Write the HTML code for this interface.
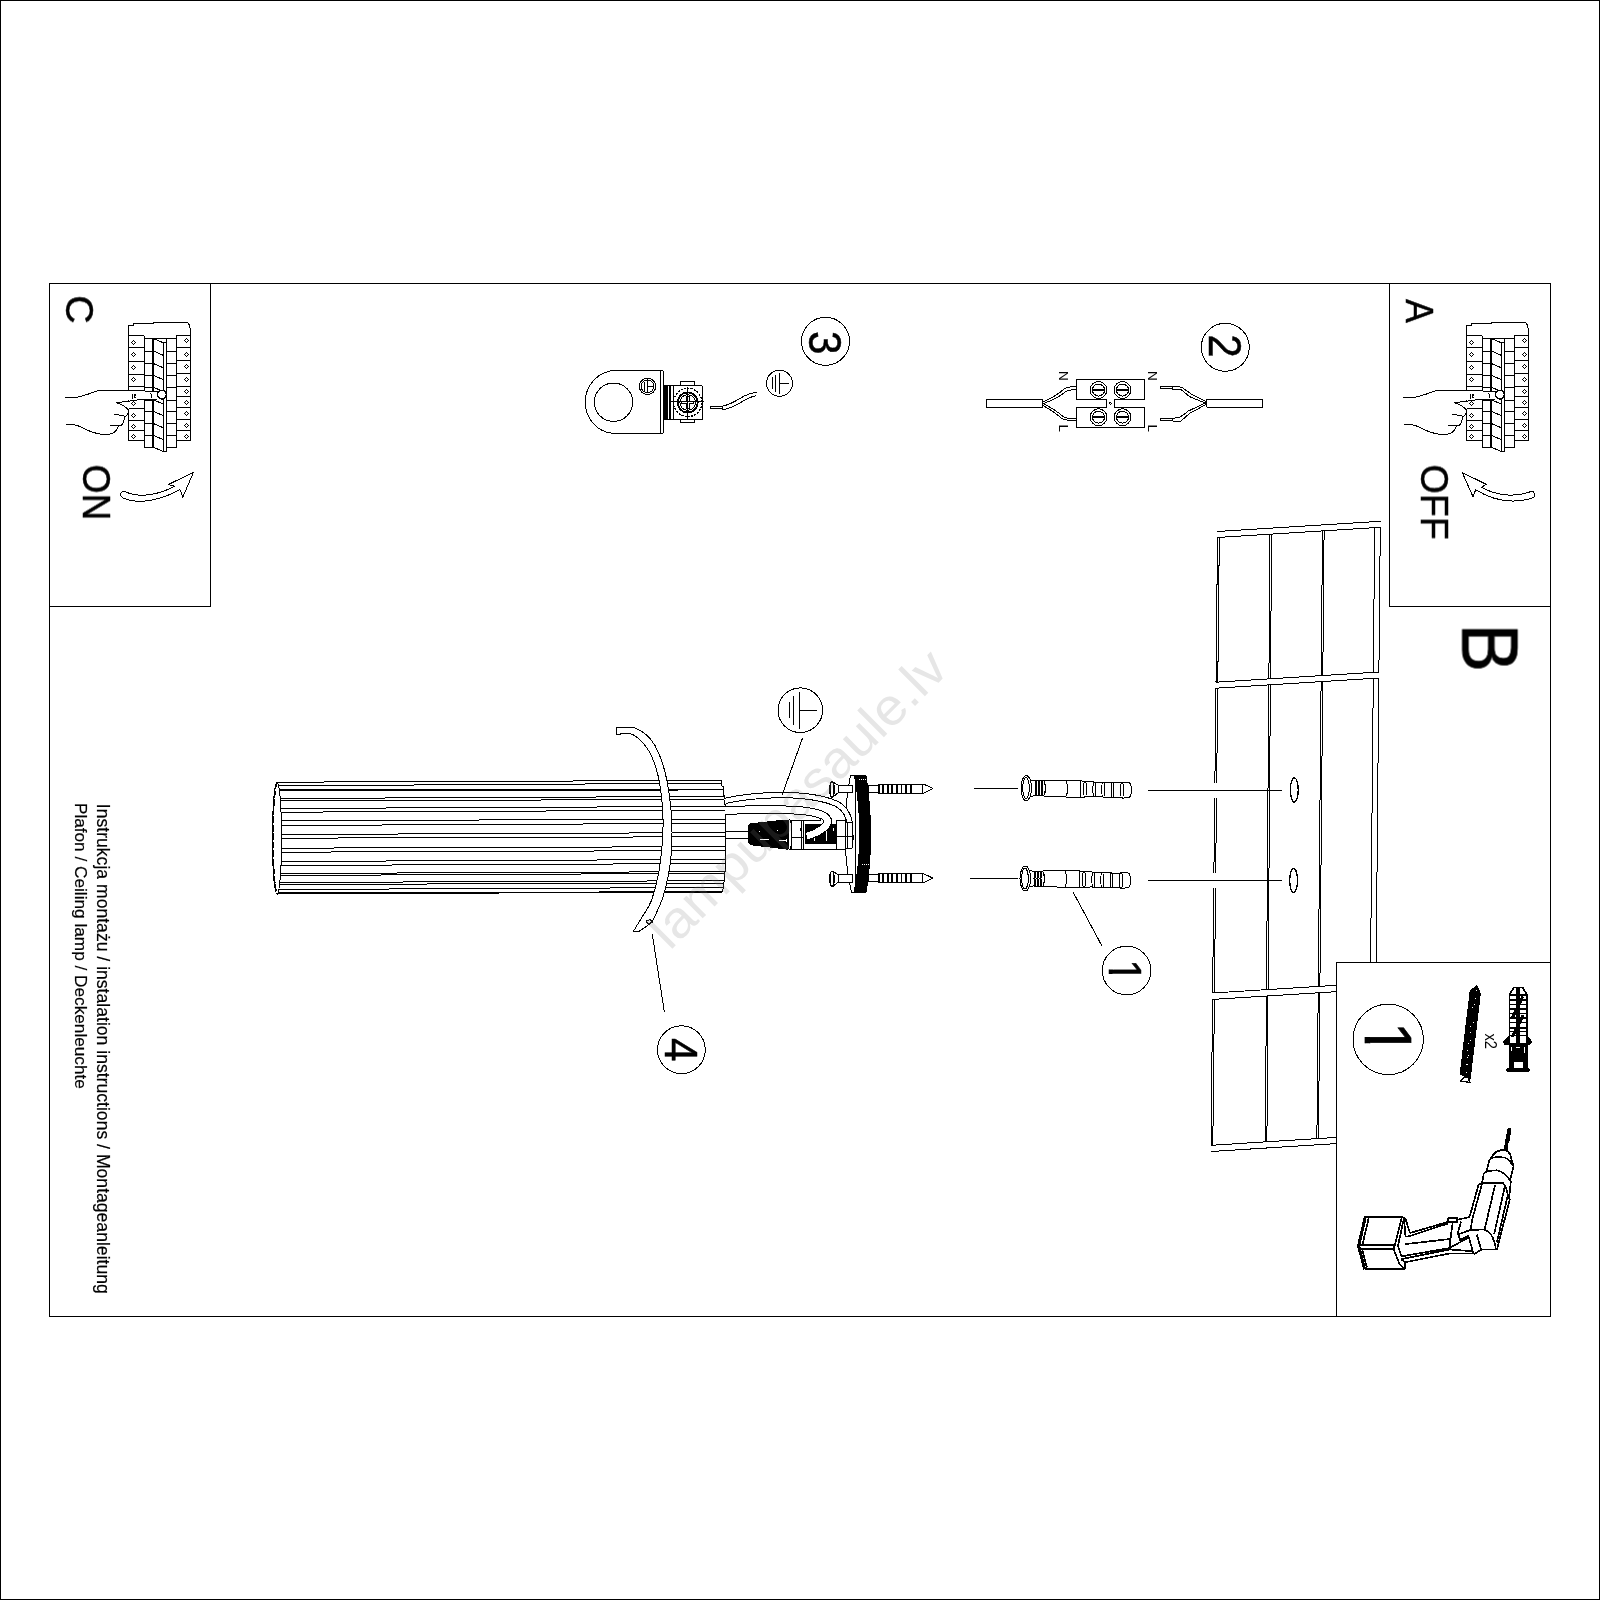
<!DOCTYPE html>
<html lang="pl">
<head>
<meta charset="utf-8">
<title>Instrukcja montażu / instalation instructions / Montageanleitung</title>
<style>
html,body{margin:0;padding:0;background:#fff;}
body{width:1600px;height:1600px;position:relative;overflow:hidden;font-family:"Liberation Sans",sans-serif;}
svg{position:absolute;left:0;top:0;display:block;shape-rendering:crispEdges;}
.l{fill:none;stroke:#000;stroke-width:1;vector-effect:non-scaling-stroke;stroke-linejoin:round;stroke-linecap:butt}
.w{fill:#fff;stroke:#000;stroke-width:1;vector-effect:non-scaling-stroke;stroke-linejoin:round}
.k{fill:#000;stroke:#000;stroke-width:1;vector-effect:non-scaling-stroke;stroke-linejoin:round}
.t2{fill:none;stroke:#000;stroke-width:1.7;vector-effect:non-scaling-stroke;stroke-linejoin:round}
.t3{fill:none;stroke:#000;stroke-width:2.4;vector-effect:non-scaling-stroke;stroke-linejoin:round}
text{font-family:"Liberation Sans",sans-serif;fill:#000}
</style>
</head>
<body>
<svg width="1600" height="1600" viewBox="0 0 1600 1600">
<rect x="0" y="0" width="1600" height="1600" fill="#fff"/>
<!-- page border and frames -->
<rect x="0.5" y="0.5" width="1599" height="1599" class="l" style="stroke-width:1.2"/>
<rect x="49.5" y="283.5" width="1501" height="1033" class="l"/>
<rect x="49.5" y="283.5" width="161" height="323" class="l"/>
<rect x="1389.5" y="283.5" width="161" height="323" class="l"/>
<!-- breaker panel + pointing hand (box C and box A) -->
<g transform="translate(50,300) scale(0.125)">
<path class="l" d="M628,285 V205 H668 V190 H825 V180 H1100 L1118,205 L1125,265 V1120"/>
<path class="l" d="M628,285 V1125 H752 V285 Z"/>
<path class="l" d="M628,380 H752"/>
<path class="l" d="M628,495 H752"/>
<path class="l" d="M628,592 H752"/>
<path class="l" d="M628,688 H752"/>
<path class="l" d="M628,775 H752"/>
<path class="l" d="M628,865 H752"/>
<path class="l" d="M628,960 H752"/>
<path class="l" d="M628,1045 H752"/>
<path class="l" d="M1012,280 H1125 M1012,280 V1120 H1125"/>
<path class="l" d="M1012,380 H1125"/>
<path class="l" d="M1012,485 H1125"/>
<path class="l" d="M1012,590 H1125"/>
<path class="l" d="M1012,688 H1125"/>
<path class="l" d="M1012,775 H1125"/>
<path class="l" d="M1012,862 H1125"/>
<path class="l" d="M1012,958 H1125"/>
<path class="l" d="M1012,1040 H1125"/>
<path class="l" d="M757,310 H820 M757,310 V1180 H820"/>
<path class="l" d="M757,410 H820"/>
<path class="l" d="M757,510 H820"/>
<path class="l" d="M757,605 H820"/>
<path class="l" d="M757,700 H820"/>
<path class="l" d="M757,800 H820"/>
<path class="l" d="M757,893 H820"/>
<path class="l" d="M757,990 H820"/>
<path class="l" d="M757,1085 H820"/>
<path class="t3" d="M825,305 V1182"/>
<path class="l" d="M832,310 L905,342 V1212 L832,1180 M905,342 H930 V1212 H905 M930,330 V342"/>
<path class="l" d="M832,410 L905,442"/>
<path class="l" d="M832,510 L905,542"/>
<path class="l" d="M832,605 L905,637"/>
<path class="l" d="M832,700 L905,732"/>
<path class="l" d="M832,800 L905,832"/>
<path class="l" d="M832,893 L905,925"/>
<path class="l" d="M832,990 L905,1022"/>
<path class="l" d="M832,1085 L905,1117"/>
<path class="l" d="M935,310 H1010 M935,310 V1180 H1010 V310"/>
<path class="l" d="M935,410 H1010"/>
<path class="l" d="M935,510 H1010"/>
<path class="l" d="M935,605 H1010"/>
<path class="l" d="M935,700 H1010"/>
<path class="l" d="M935,800 H1010"/>
<path class="l" d="M935,893 H1010"/>
<path class="l" d="M935,990 H1010"/>
<path class="l" d="M935,1085 H1010"/>
<path class="l" d="M752,285 L757,310 M1010,310 L1012,280 M820,310 H935"/>
<path class="l" d="M652,340 L668,324 L684,340 L668,356 Z"/>
<path class="l" d="M652,437 L668,421 L684,437 L668,453 Z"/>
<path class="l" d="M652,540 L668,524 L684,540 L668,556 Z"/>
<path class="l" d="M652,635 L668,619 L684,635 L668,651 Z"/>
<path class="l" d="M652,828 L668,812 L684,828 L668,844 Z"/>
<path class="l" d="M652,923 L668,907 L684,923 L668,939 Z"/>
<path class="l" d="M652,1012 L668,996 L684,1012 L668,1028 Z"/>
<path class="l" d="M652,1090 L668,1074 L684,1090 L668,1106 Z"/>
<path class="l" d="M1076,325 L1092,309 L1108,325 L1092,341 Z"/>
<path class="l" d="M1076,437 L1092,421 L1108,437 L1092,453 Z"/>
<path class="l" d="M1076,532 L1092,516 L1108,532 L1092,548 Z"/>
<path class="l" d="M1076,635 L1092,619 L1108,635 L1092,651 Z"/>
<path class="l" d="M1076,732 L1092,716 L1108,732 L1092,748 Z"/>
<path class="l" d="M1076,820 L1092,804 L1108,820 L1092,836 Z"/>
<path class="l" d="M1076,908 L1092,892 L1108,908 L1092,924 Z"/>
<path class="l" d="M1076,1003 L1092,987 L1108,1003 L1092,1019 Z"/>
<path class="l" d="M1076,1090 L1092,1074 L1108,1090 L1092,1106 Z"/>
<path class="w" d="M120,778 C190,790 250,775 300,755 C340,740 370,725 400,723 L640,722 L860,735 L860,790 L700,800 L530,822 L628,868 L628,800 Z" style="stroke:none"/>
<path class="l" d="M120,778 C190,790 250,775 300,755 C340,740 370,725 400,723 L640,722 L862,733"/>
<path class="l" d="M862,792 L700,800 L530,822 C570,835 600,850 620,872 C630,890 628,915 605,930 C575,925 545,918 515,912"/>
<path class="l" d="M592,935 C595,960 590,985 572,1000 C545,1012 510,1008 482,1003"/>
<path class="l" d="M545,1010 C540,1035 525,1055 500,1068 C470,1078 440,1078 410,1075 C360,1065 300,1045 260,1022 C230,1005 200,993 130,995"/>
<ellipse class="w" cx="895" cy="757" rx="36" ry="34" style="stroke-width:1.6"/>
<path class="l" d="M660,748 V790 M672,752 h10 v14 h-10 v16 h12 M806,740 L816,782"/>
</g>
<g transform="translate(1388,300) scale(0.125)">
<path class="l" d="M628,285 V205 H668 V190 H825 V180 H1100 L1118,205 L1125,265 V1120"/>
<path class="l" d="M628,285 V1125 H752 V285 Z"/>
<path class="l" d="M628,380 H752"/>
<path class="l" d="M628,495 H752"/>
<path class="l" d="M628,592 H752"/>
<path class="l" d="M628,688 H752"/>
<path class="l" d="M628,775 H752"/>
<path class="l" d="M628,865 H752"/>
<path class="l" d="M628,960 H752"/>
<path class="l" d="M628,1045 H752"/>
<path class="l" d="M1012,280 H1125 M1012,280 V1120 H1125"/>
<path class="l" d="M1012,380 H1125"/>
<path class="l" d="M1012,485 H1125"/>
<path class="l" d="M1012,590 H1125"/>
<path class="l" d="M1012,688 H1125"/>
<path class="l" d="M1012,775 H1125"/>
<path class="l" d="M1012,862 H1125"/>
<path class="l" d="M1012,958 H1125"/>
<path class="l" d="M1012,1040 H1125"/>
<path class="l" d="M757,310 H820 M757,310 V1180 H820"/>
<path class="l" d="M757,410 H820"/>
<path class="l" d="M757,510 H820"/>
<path class="l" d="M757,605 H820"/>
<path class="l" d="M757,700 H820"/>
<path class="l" d="M757,800 H820"/>
<path class="l" d="M757,893 H820"/>
<path class="l" d="M757,990 H820"/>
<path class="l" d="M757,1085 H820"/>
<path class="t3" d="M825,305 V1182"/>
<path class="l" d="M832,310 L905,342 V1212 L832,1180 M905,342 H930 V1212 H905 M930,330 V342"/>
<path class="l" d="M832,410 L905,442"/>
<path class="l" d="M832,510 L905,542"/>
<path class="l" d="M832,605 L905,637"/>
<path class="l" d="M832,700 L905,732"/>
<path class="l" d="M832,800 L905,832"/>
<path class="l" d="M832,893 L905,925"/>
<path class="l" d="M832,990 L905,1022"/>
<path class="l" d="M832,1085 L905,1117"/>
<path class="l" d="M935,310 H1010 M935,310 V1180 H1010 V310"/>
<path class="l" d="M935,410 H1010"/>
<path class="l" d="M935,510 H1010"/>
<path class="l" d="M935,605 H1010"/>
<path class="l" d="M935,700 H1010"/>
<path class="l" d="M935,800 H1010"/>
<path class="l" d="M935,893 H1010"/>
<path class="l" d="M935,990 H1010"/>
<path class="l" d="M935,1085 H1010"/>
<path class="l" d="M752,285 L757,310 M1010,310 L1012,280 M820,310 H935"/>
<path class="l" d="M652,340 L668,324 L684,340 L668,356 Z"/>
<path class="l" d="M652,437 L668,421 L684,437 L668,453 Z"/>
<path class="l" d="M652,540 L668,524 L684,540 L668,556 Z"/>
<path class="l" d="M652,635 L668,619 L684,635 L668,651 Z"/>
<path class="l" d="M652,828 L668,812 L684,828 L668,844 Z"/>
<path class="l" d="M652,923 L668,907 L684,923 L668,939 Z"/>
<path class="l" d="M652,1012 L668,996 L684,1012 L668,1028 Z"/>
<path class="l" d="M652,1090 L668,1074 L684,1090 L668,1106 Z"/>
<path class="l" d="M1076,325 L1092,309 L1108,325 L1092,341 Z"/>
<path class="l" d="M1076,437 L1092,421 L1108,437 L1092,453 Z"/>
<path class="l" d="M1076,532 L1092,516 L1108,532 L1092,548 Z"/>
<path class="l" d="M1076,635 L1092,619 L1108,635 L1092,651 Z"/>
<path class="l" d="M1076,732 L1092,716 L1108,732 L1092,748 Z"/>
<path class="l" d="M1076,820 L1092,804 L1108,820 L1092,836 Z"/>
<path class="l" d="M1076,908 L1092,892 L1108,908 L1092,924 Z"/>
<path class="l" d="M1076,1003 L1092,987 L1108,1003 L1092,1019 Z"/>
<path class="l" d="M1076,1090 L1092,1074 L1108,1090 L1092,1106 Z"/>
<path class="w" d="M120,778 C190,790 250,775 300,755 C340,740 370,725 400,723 L640,722 L860,735 L860,790 L700,800 L530,822 L628,868 L628,800 Z" style="stroke:none"/>
<path class="l" d="M120,778 C190,790 250,775 300,755 C340,740 370,725 400,723 L640,722 L862,733"/>
<path class="l" d="M862,792 L700,800 L530,822 C570,835 600,850 620,872 C630,890 628,915 605,930 C575,925 545,918 515,912"/>
<path class="l" d="M592,935 C595,960 590,985 572,1000 C545,1012 510,1008 482,1003"/>
<path class="l" d="M545,1010 C540,1035 525,1055 500,1068 C470,1078 440,1078 410,1075 C360,1065 300,1045 260,1022 C230,1005 200,993 130,995"/>
<ellipse class="w" cx="895" cy="757" rx="36" ry="34" style="stroke-width:1.6"/>
<path class="l" d="M660,748 V790 M672,752 h10 v14 h-10 v16 h12 M806,740 L816,782"/>
</g>
<!-- ON / OFF curved arrows -->
<g transform="translate(60,440) scale(0.1)">
<path class="l" d="M1335,322 L1085,445 L1150,462 C1000,540 800,590 650,515 C600,508 588,562 640,585 C800,650 1000,600 1200,497 L1228,572 Z"/>
</g>
<g transform="translate(1380,420) scale(0.125)">
<path class="l" d="M658,420 L850,515 L812,537 C900,590 1050,630 1205,573 C1238,566 1252,612 1215,625 C1100,660 950,672 765,558 L745,615 Z"/>
</g>
<!-- step 2: terminal block and cables -->
<g transform="translate(1030,360) scale(0.1)">
<path class="l" d="M465,195 H1145 V393 H845 V475 H1145 V675 H465 V475 H760 V393 H465 Z"/>
<circle class="l" cx="803" cy="433" r="9"/>
<g id="scr">
<circle class="l" cx="685" cy="300" r="84"/><circle class="l" cx="685" cy="300" r="60"/><path class="t2" d="M628,300 H742"/>
</g>
<circle class="l" cx="925" cy="300" r="84"/><circle class="l" cx="925" cy="300" r="60"/><path class="t2" d="M868,300 H982"/>
<circle class="l" cx="685" cy="572" r="84"/><circle class="l" cx="685" cy="572" r="60"/><path class="t2" d="M628,572 H742"/>
<circle class="l" cx="925" cy="572" r="84"/><circle class="l" cx="925" cy="572" r="60"/><path class="t2" d="M868,572 H982"/>
<!-- left cable -->
<path class="l" d="M-436,398 H125 V470 H-436 Z"/>
<path class="l" d="M125,422 C200,388 265,360 330,298 C362,268 400,265 465,265"/>
<path class="l" d="M125,440 C215,405 285,378 350,322 C380,296 410,295 465,295"/>
<path class="l" d="M125,432 C200,470 265,505 330,565 C362,592 400,580 465,580"/>
<path class="l" d="M125,452 C195,490 255,530 320,585 C350,607 400,605 465,605"/>
</g>
<g transform="translate(1140,360) scale(0.1)">
<!-- right cable -->
<path class="l" d="M665,398 H1225 V470 H665 Z"/>
<path class="l" d="M325,265 H205 V285 H325"/>
<path class="l" d="M325,262 H375 L430,280 C470,310 500,335 530,350 L665,418"/>
<path class="l" d="M325,262 V296 H410 C440,320 470,348 500,368 L665,436"/>
<path class="l" d="M325,588 H205 V606 H325"/>
<path class="l" d="M325,610 H410 C440,585 470,555 500,532 L665,442"/>
<path class="l" d="M325,610 V584 L400,570 C430,555 455,530 480,512 L665,424"/>
</g>
<!-- step 3: earth bracket -->
<g transform="translate(575,360) scale(0.1)">
<path class="l" d="M400,103 H865 Q885,103 885,123 V715 Q885,735 865,735 H385 C220,720 103,590 103,418 C103,250 230,115 400,103 Z"/>
<path class="l" d="M858,103 V735"/>
<circle class="l" cx="385" cy="422" r="192"/>
<circle class="l" cx="725" cy="263" r="82"/><circle class="l" cx="725" cy="263" r="64"/>
<path class="l" d="M695,215 V311 M722,200 V326 M722,263 H778"/>
<!-- clamp -->
<path class="l" d="M888,255 H1270 V597 H888"/>
<path d="M890,250 H925 V600 H890 Z M936,250 H957 V600 H936 Z" fill="#000"/>
<path class="l" d="M985,255 V597"/>
<path class="l" d="M1055,255 V212 H1198 V255 M1055,597 V628 H1198 V597"/>
<circle class="l" cx="1127" cy="425" r="142" style="stroke-dasharray:2.2 1.1;stroke-width:1.3"/>
<circle class="t2" cx="1127" cy="425" r="100"/>
<circle class="l" cx="1127" cy="425" r="78"/>
<path class="l" d="M1113,365 H1141 V411 H1187 V439 H1141 V485 H1113 V439 H1067 V411 H1113 Z"/>
<path class="l" d="M960,415 H1290 M1127,265 V590"/>
</g>
<g transform="translate(700,310) scale(0.1)">
<circle class="l" cx="795" cy="733" r="130"/>
<path class="l" d="M725,670 V790 M755,650 V815 M790,625 V840 M790,733 H885"/>
<!-- wire -->
<path class="l" d="M225,962 H103 V985 H225"/>
<path class="l" d="M225,962 V997 C290,990 340,970 430,912 C470,885 510,865 565,855"/>
<path class="l" d="M225,962 C300,945 350,915 400,885 C440,858 490,835 565,822"/>
</g>
<!-- ceiling panels -->
<path class="l" d="M1217.3,531.5 L1380.7,521.3"/>
<path class="l" d="M1210.9,1151.5 L1336.5,1143.6"/>
<path class="l" d="M1217.5,537.5 L1380.3,527.3"/>
<path class="l" d="M1216.0,682.2 L1378.9,672.0"/>
<path class="l" d="M1217.5,537.5 L1216.0,682.2"/>
<path class="l" d="M1219.3,537.5 L1217.8,682.2"/>
<path class="l" d="M1270.0,534.2 L1268.9,678.9"/>
<path class="l" d="M1271.6,534.2 L1270.5,678.9"/>
<path class="l" d="M1322.5,530.9 L1321.2,675.7"/>
<path class="l" d="M1324.1,530.9 L1322.8,675.7"/>
<path class="l" d="M1374.7,527.6 L1373.3,672.4"/>
<path class="l" d="M1380.3,527.3 L1378.9,672.0"/>
<path class="l" d="M1215.9,688.2 L1378.8,678.0"/>
<path class="l" d="M1212.6,993.0 L1376.0,982.8"/>
<path class="l" d="M1215.9,688.2 L1214.9,782.8"/>
<path class="l" d="M1217.7,688.2 L1216.7,782.8"/>
<path class="l" d="M1214.7,797.8 L1213.9,873.0"/>
<path class="l" d="M1216.5,797.8 L1215.7,873.0"/>
<path class="l" d="M1213.8,888.0 L1212.6,993.0"/>
<path class="l" d="M1215.6,888.0 L1214.4,993.0"/>
<path class="l" d="M1268.8,684.9 L1266.5,989.6"/>
<path class="l" d="M1270.4,684.9 L1268.1,989.6"/>
<path class="l" d="M1321.1,681.7 L1318.3,986.4"/>
<path class="l" d="M1322.7,681.7 L1319.9,986.4"/>
<path class="l" d="M1373.3,678.4 L1370.4,983.1"/>
<path class="l" d="M1378.8,678.0 L1376.0,982.8"/>
<path class="l" d="M1212.6,999.4 L1375.9,989.2"/>
<path class="l" d="M1211.0,1145.3 L1374.6,1135.0"/>
<path class="l" d="M1212.6,999.4 L1211.0,1145.3"/>
<path class="l" d="M1214.4,999.4 L1212.8,1145.3"/>
<path class="l" d="M1266.4,996.0 L1265.3,1141.9"/>
<path class="l" d="M1268.0,996.0 L1266.9,1141.9"/>
<path class="l" d="M1318.2,992.8 L1316.9,1138.7"/>
<path class="l" d="M1319.8,992.8 L1318.5,1138.7"/>
<path class="l" d="M1370.4,989.5 L1369.0,1135.4"/>
<path class="l" d="M1375.9,989.2 L1374.6,1135.0"/>
<ellipse class="l" cx="1294.3" cy="790" rx="3.9" ry="12.2" style="stroke-width:1.3"/>
<ellipse class="l" cx="1293.6" cy="880.5" rx="3.9" ry="12.2" style="stroke-width:1.3"/>
<path class="l" d="M1148.3,790.3 H1281.7 M1148.3,880.5 H1281.7"/>
<!-- wall plugs and guide lines -->
<g transform="translate(960,760) scale(0.125)">
<path class="l" d="M112,228 H462 M80,947 H462"/>
<ellipse class="w" cx="530" cy="225" rx="42" ry="100"/>
<ellipse class="l" cx="528" cy="225" rx="26" ry="84"/>
<path class="l" d="M562,160 L600,168 M562,292 L600,284"/>
<path class="l" d="M606,168 Q594,225 606,284 M614,168 Q602,225 614,284 M630,166 Q618,225 630,286 M638,166 Q626,225 638,286 M654,166 Q642,225 654,286 M662,166 Q650,225 662,286"/>
<path class="l" d="M600,165 H672 M600,287 H672 M676,170 Q690,225 676,284"/>
<path class="l" d="M672,162 L850,160 M672,288 L850,296"/>
<path class="l" d="M845,160 Q880,228 845,298 M845,160 L968,164 M845,298 L968,298"/>
<path class="l" d="M968,164 Q958,230 968,298"/>
<path class="l" d="M968,166 L1000,172 L1062,172 L1075,178 L1135,178 L1147,180 L1208,180 L1222,182 L1285,182 L1297,178 L1350,180 Q1368,184 1368,205 V275 Q1368,296 1350,298 L1297,306 L1285,298 L1222,300 L1208,296 L1147,298 L1135,294 L1075,296 L1062,292 L1000,296 L968,298"/>
<ellipse class="l" cx="1000" cy="234" rx="12" ry="62"/>
<ellipse class="l" cx="1075" cy="236" rx="12" ry="60"/>
<ellipse class="l" cx="1146" cy="238" rx="12" ry="60"/>
<ellipse class="l" cx="1220" cy="240" rx="12" ry="60"/>
<ellipse class="l" cx="1296" cy="242" rx="12" ry="62"/>
<g transform="translate(-8,723)">
<ellipse class="w" cx="530" cy="225" rx="42" ry="100"/>
<ellipse class="l" cx="528" cy="225" rx="26" ry="84"/>
<path class="l" d="M562,160 L600,168 M562,292 L600,284"/>
<path class="l" d="M606,168 Q594,225 606,284 M614,168 Q602,225 614,284 M630,166 Q618,225 630,286 M638,166 Q626,225 638,286 M654,166 Q642,225 654,286 M662,166 Q650,225 662,286"/>
<path class="l" d="M600,165 H672 M600,287 H672 M676,170 Q690,225 676,284"/>
<path class="l" d="M672,162 L850,160 M672,288 L850,296"/>
<path class="l" d="M845,160 Q880,228 845,298 M845,160 L968,164 M845,298 L968,298"/>
<path class="l" d="M968,164 Q958,230 968,298"/>
<path class="l" d="M968,166 L1000,172 L1062,172 L1075,178 L1135,178 L1147,180 L1208,180 L1222,182 L1285,182 L1297,178 L1350,180 Q1368,184 1368,205 V275 Q1368,296 1350,298 L1297,306 L1285,298 L1222,300 L1208,296 L1147,298 L1135,294 L1075,296 L1062,292 L1000,296 L968,298"/>
<ellipse class="l" cx="1000" cy="234" rx="12" ry="62"/>
<ellipse class="l" cx="1075" cy="236" rx="12" ry="60"/>
<ellipse class="l" cx="1146" cy="238" rx="12" ry="60"/>
<ellipse class="l" cx="1220" cy="240" rx="12" ry="60"/>
<ellipse class="l" cx="1296" cy="242" rx="12" ry="62"/>
</g>
<path class="l" d="M905,1057 L1134,1485"/>
</g>
<!-- lamp: fluted tube -->
<path class="l" d="M277.3,782.2 L721.8,780.4"/>
<path class="l" d="M278.8,785.8 L721.8,783.2"/>
<path class="t2" d="M279.6,790.2 L723.2,789.6"/>
<path class="l" d="M280.5,798.5 L724.3,796.4"/>
<path class="l" d="M280.7,801.0 L724.3,799.3"/>
<path class="l" d="M281.2,808.5 L725.0,806.4"/>
<path class="l" d="M281.4,812.2 L725.0,810.2"/>
<path class="l" d="M281.7,820.5 L725.0,819.4"/>
<path class="l" d="M281.8,825.5 L725.0,823.3"/>
<path class="l" d="M281.9,834.5 L725.0,832.6"/>
<path class="l" d="M281.9,838.2 L725.0,836.7"/>
<path class="l" d="M281.8,848.2 L725.0,846.6"/>
<path class="l" d="M281.8,852.2 L725.0,850.5"/>
<path class="l" d="M281.5,861.5 L725.0,859.4"/>
<path class="l" d="M281.3,865.5 L725.0,863.5"/>
<path class="l" d="M280.9,873.5 L725.0,871.6"/>
<path class="l" d="M280.7,875.5 L724.0,873.3"/>
<path class="l" d="M280.1,882.5 L724.0,880.7"/>
<path class="l" d="M279.9,884.5 L723.0,883.0"/>
<path class="l" d="M279.1,889.5 L723.0,887.5"/>
<path class="t2" d="M278.0,893.3 L722.0,892.0"/>
<ellipse class="l" cx="277.0" cy="838.3" rx="4.6" ry="55.6"/>
<path class="t2" d="M277.5,782.6999999999999 A4.6,55.6 0 0 0 277.5,893.9" style="stroke-dasharray:7 1.5"/>
<path class="l" d="M721.8,780.4 L721.8,786.0 L723.2,786.0 L723.2,795.0 L724.3,795.0 L724.3,804.0 L725.0,804.0 L725.0,872.0 L724.0,872.0 L724.0,882.0 L723.0,882.0 L723.0,889.0 L722.0,889.0 L722.0,892.2"/>
<!-- lamp: wires, socket, mounting plate, screws -->
<!-- mounting plate -->
<path class="w" d="M855,775.6 H850.5 C846.5,795 845,815 845,834 C845,855 847.5,875 851.5,892.4 H855 Z"/>
<path class="k" d="M854.5,775.6 H866 C869,795 870.6,815 870.6,834 C870.6,855 869,875 866,892.4 H854 C857.5,875 859.8,855 859.8,834 C859.8,815 858,795 854.5,775.6 Z"/>
<path d="M859,779.5 h7 M862,864.5 h7" stroke="#fff" stroke-width="1" stroke-dasharray="1 1" fill="none"/>
<g transform="translate(720,780) scale(0.1)">
<!-- thin cable from tube to socket -->
<path class="l" d="M50,515 H290 M50,580 H290"/>
<!-- earth wire W1 -->
<path d="M50,209 C250,165 450,150 650,150 C850,155 1050,185 1170,240 C1260,290 1295,370 1300,470 L1305,600" fill="none" stroke="#000" stroke-width="6.4" vector-effect="non-scaling-stroke"/>
<path d="M48,209 C250,165 450,150 650,150 C850,155 1050,185 1170,240 C1260,290 1295,370 1300,470 L1305,602" fill="none" stroke="#fff" stroke-width="4.4" vector-effect="non-scaling-stroke"/>
<!-- socket body -->
<path class="l" d="M700,400 H1010 M700,690 H1255"/>
<rect class="w" x="1160" y="400" width="90" height="290"/>
<path class="w" d="M1250,420 H1320 Q1335,550 1320,680 H1250 Z"/>
<path class="l" d="M1160,560 H1330 M1270,420 V680"/>
<rect class="k" x="850" y="440" width="310" height="190"/>
<path d="M940,520 V610 M1060,500 V610 M1085,600 h8 M1130,480 v30" stroke="#fff" stroke-width="1" fill="none" vector-effect="non-scaling-stroke"/>
<rect class="w" x="715" y="400" width="115" height="290"/>
<path class="l" d="M720,570 H830 M815,400 V690 M805,480 V510 M850,440 V640"/>
<path class="k" d="M285,455 L300,440 L330,435 L660,400 H682 V690 H660 L330,650 L300,640 L285,620 Z"/>
<ellipse class="w" cx="696" cy="545" rx="19" ry="150"/>
<path class="l" d="M690,400 Q676,545 690,690"/>
<circle cx="393" cy="515" r="8" fill="#fff"/><circle cx="575" cy="505" r="8" fill="#fff"/>
<path d="M400,595 H490 M585,600 H660 M668,585 V615" stroke="#fff" stroke-width="1" fill="none" vector-effect="non-scaling-stroke"/>
<!-- live wire W2 looping into the socket -->
<path d="M50,308 C300,292 600,292 800,305 C950,318 1072,348 1078,410 C1080,468 980,528 872,560" fill="none" stroke="#000" stroke-width="8.6" vector-effect="non-scaling-stroke"/>
<path d="M48,308 C300,292 600,292 800,305 C950,318 1072,348 1078,410 C1080,468 980,528 868,561" fill="none" stroke="#fff" stroke-width="6.6" vector-effect="non-scaling-stroke"/>
<path class="l" d="M1010,400 L1000,392"/>
</g>
<!-- bolts -->
<g id="bolt">
<path class="w" d="M838,785.2 H852.5 V792.8 H838 Z"/>
<path class="w" d="M833,782 L838,785.2 V792.8 L833,797 Z"/>
<ellipse class="w" cx="832" cy="789.5" rx="2.1" ry="7.6" style="stroke-width:1.4"/>
</g>
<g transform="translate(0,89.4)">
<path class="w" d="M838,785.2 H852.5 V792.8 H838 Z"/>
<path class="w" d="M833,782 L838,785.2 V792.8 L833,797 Z"/>
<ellipse class="w" cx="832" cy="789.5" rx="2.1" ry="7.6" style="stroke-width:1.4"/>
</g>
<!-- wood screws -->
<path class="w" d="M868,785.0 H878 V792.2 H868 Z"/>
<path class="w" d="M878,784.0 H923.5 L933,788.6 L923.5,793.2 H878 Z"/>
<path class="t2" d="M878.8,784.0 V793.2 M883.3,784.0 V793.2 M887.9,784.0 V793.2 M892.4,784.0 V793.2 M897.0,784.0 V793.2 M901.5,784.0 V793.2 M906.1,784.0 V793.2 M910.6,784.0 V793.2" style="stroke-width:1.9"/>
<path class="l" d="M922.5,784.0 V793.2"/>
<path class="w" d="M868,874.6 H878 V881.8000000000001 H868 Z"/>
<path class="w" d="M878,873.6 H923.5 L933,878.2 L923.5,882.8000000000001 H878 Z"/>
<path class="t2" d="M878.8,873.6 V882.8000000000001 M883.3,873.6 V882.8000000000001 M887.9,873.6 V882.8000000000001 M892.4,873.6 V882.8000000000001 M897.0,873.6 V882.8000000000001 M901.5,873.6 V882.8000000000001 M906.1,873.6 V882.8000000000001 M910.6,873.6 V882.8000000000001" style="stroke-width:1.9"/>
<path class="l" d="M922.5,873.6 V882.8000000000001"/>
<!-- rotation arrow (4), earth symbol, leader lines -->
<g transform="translate(590,700) scale(0.1625)">
<path class="w" d="M163,170 H270 C330,190 370,230 400,280 C450,370 475,480 490,600 C505,700 510,800 500,950 C490,1050 475,1130 450,1210 C430,1270 405,1320 380,1370 L300,1425 L268,1422 L330,1320 C350,1290 365,1270 380,1230 C400,1170 415,1110 425,1050 C440,950 450,850 450,750 C448,650 440,560 420,470 C400,390 370,310 330,270 C300,235 270,210 240,205 H190 V212 H163 Z"/>
<path class="w" d="M345,1358 L372,1352 L384,1368 L356,1378 Z"/>
<path class="l" d="M330,1320 L340,1308"/>
<path class="l" d="M383,1440 L458,1922"/>
</g>
<circle class="l" cx="800.3" cy="710.2" r="22.3"/>
<path class="l" d="M789.6,702 V718.4 M793.8,696 V724.5 M799.5,692 V728.5 M799.5,710.2 H816.5"/>
<path class="l" d="M802.5,738.2 L782.3,794.5"/>
<!-- box 1 (hardware) drawn over the ceiling -->
<rect x="1336.5" y="962.5" width="214" height="354" class="w"/>
<!-- box 1: screw + wall plug -->
<g transform="translate(1440,970) scale(0.075)">
<path fill="#000" d="M490,200 L522,262 L545,312 L410,1440 L402,1485 L345,1434 L290,1404 L262,1388 L394,292 L412,262 Z"/>
<g fill="#fff">
<rect x="478" y="262" width="14" height="14"/><rect x="465" y="372" width="14" height="14"/><rect x="450" y="455" width="14" height="14"/>
<rect x="426" y="492" width="14" height="14"/><rect x="436" y="695" width="14" height="14"/><rect x="402" y="742" width="14" height="14"/>
<rect x="400" y="828" width="14" height="14"/><rect x="396" y="935" width="14" height="14"/><rect x="372" y="972" width="14" height="14"/>
<rect x="362" y="1062" width="14" height="14"/><rect x="376" y="1128" width="14" height="14"/><rect x="360" y="1162" width="14" height="14"/>
<rect x="342" y="1255" width="28" height="14"/><rect x="346" y="1355" width="14" height="14"/>
</g>
<path class="w" d="M270,1478 L322,1428 L378,1434 L398,1500 Z" style="stroke-width:1.4"/>
<!-- plug -->
<path class="t2" d="M985,232 H1100 L1158,330 V880 M985,232 L928,330 V880 M928,330 H1158"/>
<path class="t2" d="M928,400 H1158 M928,460 H1158 M928,520 H1158 M928,580 H1158 M928,640 H1158 M928,700 H1158 M928,770 H1158 M928,820 H1158 M928,872 H1158"/>
<path d="M1042,232 V1000" fill="none" stroke="#000" stroke-width="3.6" vector-effect="non-scaling-stroke"/>
<path d="M1105,350 L965,640 M1110,600 L960,900" fill="none" stroke="#000" stroke-width="3" vector-effect="non-scaling-stroke"/>
<path class="k" d="M928,870 L845,960 L872,1000 L928,992 Z M1158,870 L1225,960 L1192,1000 L1158,992 Z"/>
<rect class="k" x="925" y="985" width="236" height="355"/>
<path class="k" d="M900,1312 H1180 Q1200,1330 1180,1350 H900 Q880,1330 900,1312 Z"/>
<g fill="#fff">
<rect x="985" y="1230" width="120" height="80"/><rect x="944" y="1030" width="13" height="52"/><rect x="1124" y="1030" width="13" height="72"/><rect x="1010" y="1022" width="56" height="13"/>
<rect x="950" y="890" width="60" height="70"/><rect x="1075" y="890" width="60" height="70"/>
</g>
</g>
<!-- box 1: cordless drill -->
<g fill="none" stroke="#000" stroke-width="1.7" stroke-linejoin="round">
<!-- battery -->
<path d="M1365.4,1216.5 L1358.6,1245.8 L1364.6,1269.4" stroke-width="3"/>
<path d="M1365,1216.6 H1402 M1364.6,1269.2 H1404.8" stroke-width="2"/>
<path d="M1368.8,1217.6 L1362.4,1245 M1362,1248.8 L1366.9,1267.5"/>
<path d="M1359,1245 H1395 M1361.2,1248.8 H1393.5"/>
<path d="M1401.8,1216.9 L1395,1245 L1393.5,1248.8 L1399.5,1263.8 L1404.8,1269"/>
<path d="M1404,1218 L1398,1245.8 L1401.8,1257"/>
<path d="M1401.8,1216.9 L1405.5,1218.8 L1410,1233 M1404,1218 L1405.5,1236.8"/>
<!-- handle -->
<path d="M1410,1233 L1448.2,1221.8 M1405.5,1236.8 L1410,1236 L1448.2,1223.4"/>
<path d="M1448.2,1218.2 H1457.2 V1221.8 H1448.2 Z"/>
<path d="M1404.8,1244.2 L1449.8,1239 V1248 L1402.5,1256.2"/>
<path d="M1401,1259.2 L1449.8,1249.5 L1474,1251.4 M1405.5,1262.2 L1449.8,1253.4 L1474,1253.6"/>
<path d="M1404.8,1269 L1405.5,1262.2 L1401,1259.2"/>
<path d="M1452.8,1221.8 L1450.5,1239"/>
<path d="M1449.8,1248 L1468.9,1237.2"/>
<path d="M1456.6,1219.8 L1469.8,1217.1 M1461,1221.5 L1457.5,1234.6 L1469.8,1230.2 M1458.4,1234.6 L1460.1,1239.9 L1468.9,1235.5"/>
<!-- motor body -->
<path d="M1478.5,1184.8 L1482,1183 H1503 C1505.5,1185.5 1507,1190 1507.8,1195.2"/>
<path d="M1478.5,1184.8 L1469.8,1216.2 M1482,1183.9 L1472.4,1218.9 L1470.6,1229.4"/>
<path d="M1495.1,1184.8 L1484.6,1229.4 M1504.8,1186.5 L1494.2,1233.8 M1507.8,1195.2 L1496.9,1242.5 M1510,1198.8 L1496.9,1249.5"/>
<path d="M1469.8,1230.2 L1483.8,1229.4 C1488,1231 1491,1234 1492.5,1237.2 C1494.5,1241 1495.5,1245 1496,1249.5"/>
<path d="M1496.9,1249.5 H1482 L1474.1,1253.9 M1468.9,1237.2 L1473.2,1253 M1476.8,1234.6 L1481.1,1249.5"/>
<!-- chuck sections -->
<path d="M1483.8,1173.4 L1482,1183 M1510.9,1181.2 L1509.1,1198.8"/>
<path d="M1483.8,1173.4 C1487,1171 1491,1170.3 1496.9,1170.3 C1501,1171 1505,1174 1508.2,1177.8 L1510.9,1181.2"/>
<path d="M1489,1161.1 L1486.4,1171.6 M1513.5,1166.4 L1510,1181.2"/>
<path d="M1489.9,1158.5 C1493,1157 1497,1156.6 1504.8,1157.6 C1507,1158.5 1509,1160 1510,1161.1 L1512.6,1165.5"/>
<path d="M1492.5,1155.9 L1489,1161.1 M1510,1154.1 L1513.5,1166.4"/>
<path d="M1492.5,1155.9 C1494,1153.5 1495.5,1152.2 1496.9,1151.5 C1499.5,1150.3 1502,1149.8 1504.8,1149.8 C1507,1150.6 1508.8,1152.2 1510,1154.1"/>
<!-- bit -->
<path d="M1506.2,1140 L1504.6,1149.8 M1508,1140.5 L1506.6,1150"/>
<path d="M1509.3,1130 L1507.4,1140.5" stroke-width="4.2" stroke-linecap="round"/>
<path d="M1506.9,1141 L1505.6,1150" stroke-width="2.4"/>
</g>
<!-- big labels (rotated 90deg clockwise) -->
<defs><clipPath id="one"><path d="M-10,-90 H70 V-9 H34.6 V3 H24.4 V-9 H-10 Z"/></clipPath></defs>
<g opacity="0.999">
<text transform="translate(66,295.3) rotate(90)" font-size="39.2" stroke="#000" stroke-width="0.5">C</text>
<text transform="translate(83,464.5) rotate(90) scale(0.95,1)" font-size="39.2" stroke="#000" stroke-width="0.5">ON</text>
<text transform="translate(1406,299) rotate(90) scale(0.91,1)" font-size="39.2" stroke="#000" stroke-width="0.5">A</text>
<text transform="translate(1421,464.5) rotate(90) scale(0.96,1)" font-size="39.2" stroke="#000" stroke-width="0.5">OFF</text>
<text transform="translate(1462.5,623.5) rotate(90) scale(0.92,1)" font-size="79" stroke="#000" stroke-width="0.8">B</text>
<!-- bottom-left captions -->
<text transform="translate(97,803.8) rotate(90)" font-size="18.75" textLength="490" lengthAdjust="spacingAndGlyphs" stroke="#000" stroke-width="0.2">Instrukcja montażu / instalation instructions / Montageanleitung</text>
<text transform="translate(75.2,802.9) rotate(90)" font-size="17.15" textLength="286" lengthAdjust="spacingAndGlyphs" stroke="#000" stroke-width="0.2">Plafon / Ceiling lamp / Deckenleuchte</text>
<!-- circled numbers -->
<circle cx="1225.3" cy="347.3" r="24" class="l"/>
<text transform="translate(1209.2,334.2) rotate(90)" font-size="46.5" textLength="23.5" lengthAdjust="spacingAndGlyphs" stroke="#000" stroke-width="0.5">2</text>
<circle cx="825.5" cy="341.3" r="24" class="l"/>
<text transform="translate(808.7,331) rotate(90)" font-size="46.5" textLength="23.5" lengthAdjust="spacingAndGlyphs" stroke="#000" stroke-width="0.5">3</text>
<circle cx="681.4" cy="1049.7" r="23.9" class="l"/>
<text transform="translate(665.2,1038) rotate(90)" font-size="46.5" textLength="23.5" lengthAdjust="spacingAndGlyphs" stroke="#000" stroke-width="0.5">4</text>
<circle cx="1126.6" cy="970.5" r="24.3" class="l"/>
<g transform="translate(1109.1,959.3) rotate(90) scale(0.4227,0.465)" clip-path="url(#one)"><text font-size="100" stroke="#000" stroke-width="1.1">1</text></g>
<circle cx="1388.2" cy="1039.4" r="35.2" class="l"/>
<g transform="translate(1365.2,1022) rotate(90) scale(0.6116,0.675)" clip-path="url(#one)"><text font-size="100" stroke="#000" stroke-width="1.1">1</text></g>
<text transform="translate(1484.9,1033.5) rotate(90)" font-size="16" textLength="15.5" lengthAdjust="spacingAndGlyphs">x2</text>
<!-- N / L terminal labels -->
<text transform="translate(1059,371) rotate(90)" font-size="13.6">N</text>
<text transform="translate(1148,371) rotate(90)" font-size="13.6">N</text>
<text transform="translate(1059,424.6) rotate(90)" font-size="13.6">L</text>
<text transform="translate(1148,424.6) rotate(90)" font-size="13.6">L</text>
</g>
<!-- watermark -->
<text transform="translate(669.8,951.3) rotate(-45) scale(1.056,1)" font-size="52" style="fill:#808080;fill-opacity:0.2">lampupasaule.lv</text>
</svg>
</body>
</html>
